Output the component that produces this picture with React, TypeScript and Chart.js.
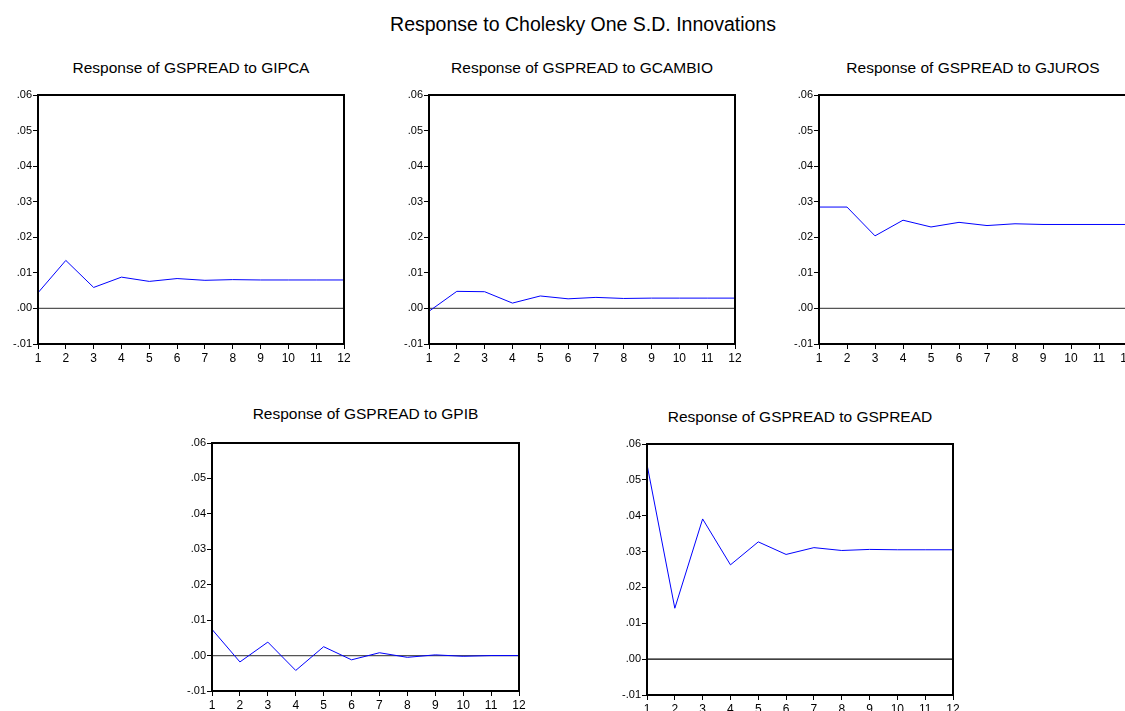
import React, { useEffect, useRef } from 'react';
import { Chart, registerables } from 'chart.js';

Chart.register(...registerables);

const MAIN_TITLE = 'Response to Cholesky One S.D. Innovations';
const PERIODS = ['1', '2', '3', '4', '5', '6', '7', '8', '9', '10', '11', '12'];
const Y_MIN = -0.01;
const Y_MAX = 0.06;
const Y_STEP = 0.01;

const TITLES = [
  'Response of GSPREAD to GIPCA',
  'Response of GSPREAD to GCAMBIO',
  'Response of GSPREAD to GJUROS',
  'Response of GSPREAD to GPIB',
  'Response of GSPREAD to GSPREAD',
];

const RESP_GIPCA = [0.0044, 0.0135, 0.0059, 0.0088, 0.0076, 0.0084, 0.0079, 0.0081, 0.008, 0.008, 0.008, 0.008];
const RESP_GCAMBIO = [-0.0008, 0.0048, 0.0047, 0.0015, 0.0035, 0.0027, 0.0031, 0.0028, 0.0029, 0.0029, 0.0029, 0.0029];
const RESP_GJUROS = [0.0285, 0.0285, 0.0204, 0.0248, 0.0229, 0.0242, 0.0233, 0.0238, 0.0236, 0.0236, 0.0236, 0.0236];
const RESP_GPIB = [0.0074, -0.0018, 0.0038, -0.0042, 0.0025, -0.0012, 0.0008, -0.0005, 0.0002, -0.0002, 0.0, 0.0];
const RESP_GSPREAD = [0.0543, 0.0142, 0.0391, 0.0263, 0.0327, 0.0292, 0.0311, 0.0303, 0.0306, 0.0305, 0.0305, 0.0305];

const SERIES = [RESP_GIPCA, RESP_GCAMBIO, RESP_GJUROS, RESP_GPIB, RESP_GSPREAD];

// layout (plot-area boxes in page pixels)
const LAYOUT = [
  { left: 38, top: 95, right: 344, bottom: 344, titleBase: 73, zero: '#555555' },
  { left: 429, top: 95, right: 735, bottom: 344, titleBase: 73, zero: '#555555' },
  { left: 819, top: 95, right: 1127, bottom: 344, titleBase: 73, zero: '#555555' },
  { left: 212, top: 443, right: 519, bottom: 691, titleBase: 419, zero: '#555555' },
  { left: 647, top: 444, right: 953, bottom: 695, titleBase: 422, zero: '#000000' },
];

const FONT = '"Liberation Sans", Arial, Helvetica, sans-serif';
const YW = 40;
const PT = 10;
const PR = 14;
const XH = 24;

function fmt(v: number): string {
  const n = Math.round(Math.abs(v) * 100);
  return (v < -1e-9 ? '-' : '') + '.' + String(n).padStart(2, '0');
}

function Panel({ idx }: { idx: number }) {
  const ref = useRef<HTMLCanvasElement>(null);
  const L = LAYOUT[idx];
  const w = L.right - L.left;
  const h = L.bottom - L.top;
  const cw = YW + w + PR;
  const ch = PT + h + XH;

  useEffect(() => {
    const boxPlugin = {
      id: 'boxAndZero' + idx,
      beforeDatasetsDraw(chart: any) {
        const { ctx, chartArea, scales } = chart;
        const y0 = scales.y.getPixelForValue(0);
        ctx.save();
        ctx.strokeStyle = L.zero;
        ctx.lineWidth = 1.2;
        ctx.beginPath();
        ctx.moveTo(chartArea.left, y0);
        ctx.lineTo(chartArea.right, y0);
        ctx.stroke();
        ctx.restore();
      },
      afterDraw(chart: any) {
        const { ctx, chartArea } = chart;
        ctx.save();
        ctx.strokeStyle = '#000000';
        ctx.lineWidth = 2;
        ctx.strokeRect(chartArea.left, chartArea.top, chartArea.right - chartArea.left, chartArea.bottom - chartArea.top);
        ctx.restore();
      },
    };
    const chart = new Chart(ref.current as HTMLCanvasElement, {
      type: 'line',
      data: {
        labels: PERIODS,
        datasets: [
          {
            data: SERIES[idx],
            borderColor: '#0000ff',
            borderWidth: 1,
            pointRadius: 0,
            tension: 0,
            fill: false,
          },
        ],
      },
      options: {
        animation: false,
        responsive: false,
        maintainAspectRatio: false,
        layout: { padding: { top: PT, right: PR, left: 0, bottom: 0 } },
        plugins: { legend: { display: false }, tooltip: { enabled: false }, title: { display: false } },
        scales: {
          x: {
            type: 'category',
            offset: false,
            grid: { drawOnChartArea: false, drawTicks: true, tickLength: 5, color: '#000000', lineWidth: 1 },
            border: { display: false },
            ticks: { color: '#000000', font: { family: FONT, size: 12 }, padding: 2, maxRotation: 0, autoSkip: false },
            afterFit: (s: any) => {
              s.height = XH;
            },
          },
          y: {
            min: Y_MIN,
            max: Y_MAX,
            grid: { drawOnChartArea: false, drawTicks: true, tickLength: 5, color: '#000000', lineWidth: 1 },
            border: { display: false },
            ticks: {
              stepSize: Y_STEP,
              color: '#000000',
              font: { family: FONT, size: 11 },
              padding: 1,
              callback: (v: any) => fmt(Number(v)),
            },
            afterFit: (s: any) => {
              s.width = YW;
            },
          },
        },
      } as any,
      plugins: [boxPlugin],
    });
    return () => chart.destroy();
  }, []);

  return (
    <>
      <div
        style={{
          position: 'absolute',
          left: L.left - 100,
          width: w + 200,
          top: L.titleBase - 13,
          textAlign: 'center',
          fontFamily: FONT,
          fontSize: 15.5,
          lineHeight: '15px',
          color: '#000',
          whiteSpace: 'nowrap',
        }}
      >
        {TITLES[idx]}
      </div>
      <canvas
        ref={ref}
        width={cw}
        height={ch}
        style={{ position: 'absolute', left: L.left - YW, top: L.top - PT, width: cw, height: ch, display: 'block' }}
      />
    </>
  );
}

export default function App() {
  return (
    <div
      style={{
        position: 'fixed',
        left: 0,
        top: 0,
        width: 1125,
        height: 711,
        overflow: 'hidden',
        background: '#ffffff',
      }}
    >
      <div
        style={{
          position: 'absolute',
          left: 0,
          width: 1166,
          top: 14,
          textAlign: 'center',
          fontFamily: FONT,
          fontSize: 19.5,
          lineHeight: '20px',
          color: '#000',
          whiteSpace: 'nowrap',
        }}
      >
        {MAIN_TITLE}
      </div>
      {LAYOUT.map((_, i) => (
        <Panel key={i} idx={i} />
      ))}
    </div>
  );
}
